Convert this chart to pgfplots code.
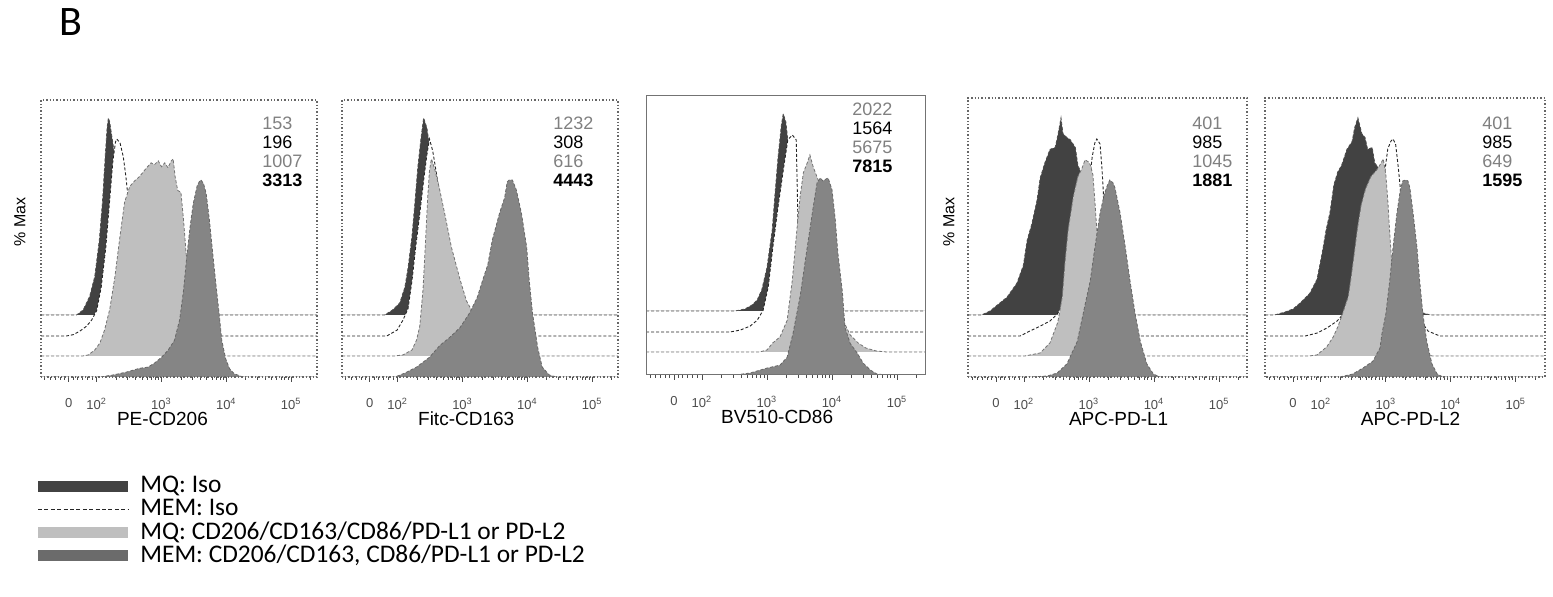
\documentclass[border=0pt]{standalone}
\usepackage{pgfplots}
\pgfplotsset{compat=1.18}
\usepackage{pgfplotstable}
\usepackage{fontspec}
\setmainfont{Liberation Sans}
\newfontfamily\calfont{Carlito}

% ---------- Panel 1: PE-CD206 ----------
\pgfplotstableread{
u p
1.14 0
1.69 0
1.79 2.5
1.89 9.3
1.97 19.5
2.04 38
2.09 58
2.13 80
2.16 95
2.18 100
2.20 98
2.25 87
2.33 68
2.41 43
2.51 18
2.66 3
2.82 0
5.40 0
}\aIso
\pgfplotstableread{
u p
1.14 0
1.53 0
1.64 0.7
1.74 2.5
1.84 4.9
1.92 8
2.00 13
2.07 25
2.14 45
2.20 69
2.25 89
2.29 98.5
2.31 100
2.36 98
2.41 91
2.45 81
2.51 62
2.61 37
2.77 15
2.97 3
3.18 0
5.40 0
}\aMiso
\pgfplotstableread{
u p
1.14 0
1.79 0
1.87 0.5
1.97 3
2.05 6.6
2.12 13
2.20 23.5
2.28 40
2.36 61
2.43 78
2.51 86
2.59 89
2.66 91
2.77 95.5
2.84 98
2.89 97
2.95 99
3.00 96
3.05 98
3.10 95.5
3.15 99
3.18 100
3.21 91
3.25 84
3.30 83
3.34 69
3.38 52
3.46 32
3.56 15
3.69 5
3.84 0.7
4.00 0
5.40 0
}\aMQ
\pgfplotstableread{
u p
1.14 0
2.05 0
2.25 1
2.46 2.5
2.66 4.4
2.79 5
2.89 7
3.00 10
3.10 13.5
3.20 18.6
3.28 29
3.34 44
3.39 61
3.44 76
3.49 88
3.55 97
3.59 99.5
3.61 100
3.65 98
3.69 93
3.74 79.5
3.79 63
3.84 47
3.89 32
3.93 18.6
3.99 9.3
4.05 4.2
4.12 1.7
4.23 0.3
4.33 0
5.40 0
}\aMEM

% ---------- Panel 2: Fitc-CD163 ----------
\pgfplotstableread{
u p
1.14 0
1.80 0
1.92 2.5
2.03 6
2.11 14
2.16 24
2.22 40
2.26 55
2.31 75
2.36 90
2.40 100
2.45 95
2.49 86
2.56 71
2.65 43
2.77 18
2.92 5
3.11 0
5.40 0
}\bIso
\pgfplotstableread{
u p
1.14 0
1.83 0
1.99 3
2.08 8
2.16 14
2.22 28
2.28 46
2.34 62
2.40 79
2.45 92
2.49 100
2.54 94
2.60 82
2.66 69
2.76 49
2.88 28
3.03 11
3.23 1.5
3.42 0
5.40 0
}\bMiso
\pgfplotstableread{
u p
1.14 0
1.96 0
2.08 0.5
2.22 3
2.29 8
2.34 15
2.39 33.5
2.43 59
2.46 79
2.49 94
2.52 100
2.57 95
2.65 84
2.72 73
2.83 55
2.96 39
3.06 28
3.16 22
3.26 13
3.42 5.6
3.65 1.5
3.88 0
5.40 0
}\bMQ
\pgfplotstableread{
u p
1.14 0
1.96 0
2.11 2
2.29 5
2.49 10
2.65 16
2.80 20
2.96 25
3.11 32.5
3.23 40.6
3.31 49
3.39 57
3.46 69.5
3.57 83
3.65 91
3.69 99
3.72 100
3.77 100
3.83 95
3.91 83
3.99 66
4.03 49
4.08 32.5
4.16 15
4.23 5
4.34 1
4.45 0
5.40 0
}\bMEM

% ---------- Panel 3: BV510-CD86 ----------
\pgfplotstableread{
u p
1.14 0
2.51 0
2.66 1
2.77 3
2.85 5.6
2.92 10.7
3.00 22
3.08 41
3.12 58
3.17 78
3.22 94
3.25 100
3.29 96
3.32 87
3.37 71.5
3.43 46
3.51 23
3.63 8
3.82 1
3.97 0
5.43 0
}\cIso
\pgfplotstableread{
u p
1.14 0
2.43 0
2.59 1
2.74 3
2.85 6
2.94 11
3.02 23
3.09 43
3.17 63.5
3.25 82
3.32 97.5
3.39 100
3.45 97.5
3.46 82
3.48 50
3.51 31
3.59 16
3.70 6
3.85 1
4.05 0
5.43 0
}\cMiso
\pgfplotstableread{
u p
1.14 0
2.89 0
3.00 1
3.09 4.6
3.20 7.6
3.31 16
3.39 36.5
3.46 62
3.51 79
3.56 91
3.62 96
3.66 100
3.71 94
3.79 87
3.89 77
4.00 57
4.09 31.5
4.17 16
4.28 8.6
4.40 4.6
4.52 2
4.68 0.5
4.83 0
5.43 0
}\cMQ
\pgfplotstableread{
u p
1.14 0
2.51 0
2.74 1
3.00 3.5
3.20 5
3.31 9
3.40 21
3.51 40
3.62 65
3.71 85
3.77 97.5
3.82 100
3.86 98.5
3.91 99.5
3.94 100
4.00 94
4.05 79
4.09 62
4.16 42
4.20 24
4.28 16
4.39 11
4.48 6
4.59 2.5
4.69 0.5
4.85 0
5.43 0
}\cMEM

% ---------- Panel 4: APC-PD-L1 ----------
\pgfplotstableread{
u p
1.14 0
1.35 0
1.48 2
1.59 5
1.74 9
1.89 16
1.99 25
2.05 38
2.12 46
2.20 58
2.25 69.5
2.32 77
2.40 84
2.48 85
2.52 91
2.57 100
2.60 92
2.66 90
2.71 89
2.79 85
2.83 76
2.89 71
3.02 53
3.14 33
3.25 18
3.36 7.6
3.48 1.5
3.63 0
5.43 0
}\dIso
\pgfplotstableread{
u p
1.14 0
1.94 0
2.09 2.5
2.25 5
2.40 7.6
2.51 11
2.63 17.8
2.79 33
2.91 53
2.99 73.6
3.05 91
3.09 98
3.12 100
3.17 97.5
3.20 85
3.22 73.6
3.23 61
3.26 43
3.32 23
3.42 10
3.56 2.5
3.71 0
5.43 0
}\dMiso
\pgfplotstableread{
u p
1.14 0
2.02 0
2.25 1.5
2.40 6.6
2.52 17
2.59 30
2.63 47
2.68 64
2.76 81
2.83 91
2.89 95
2.94 99.5
2.99 98.5
3.02 97
3.06 92
3.09 79
3.12 64
3.16 49
3.22 33.5
3.32 18
3.45 8
3.60 2
3.79 0
5.43 0
}\dMQ
\pgfplotstableread{
u p
1.14 0
2.09 0
2.36 0.5
2.51 2
2.66 6.6
2.82 18
2.91 32
3.02 49
3.09 65.5
3.17 83
3.23 92
3.28 97
3.32 100
3.37 98.5
3.40 96
3.48 83
3.56 65.5
3.63 49
3.71 32
3.79 18
3.89 6.6
3.99 1.5
4.09 0
5.43 0
}\dMEM

% ---------- Panel 5: APC-PD-L2 ----------
\pgfplotstableread{
u p
1.14 0
1.29 0
1.45 1.5
1.57 3
1.68 6
1.83 11
1.94 18
2.02 31.5
2.08 43
2.14 52
2.20 66
2.26 72.6
2.32 76
2.40 84
2.48 88
2.52 95
2.57 100
2.63 92
2.68 90
2.72 84
2.79 85
2.83 77
2.88 75
2.94 72.6
3.03 58
3.14 38
3.25 20
3.37 7.6
3.52 1.5
3.68 0
5.45 0
}\eIso
\pgfplotstableread{
u p
1.14 0
1.76 0
1.94 1.5
2.09 4
2.25 7.6
2.34 11
2.52 20
2.72 38
2.88 61
2.99 85
3.03 95
3.08 99
3.11 100
3.15 97.5
3.19 86
3.22 76
3.28 53
3.37 28
3.49 10
3.65 2.5
3.83 0
5.45 0
}\eMiso
\pgfplotstableread{
u p
1.14 0
1.83 0
1.94 0.5
2.09 4.6
2.19 9.6
2.26 14.7
2.34 22
2.42 30
2.46 38.6
2.51 51
2.56 64
2.62 76.6
2.69 85
2.77 91
2.86 94.4
2.92 97.5
2.96 100
3.00 92
3.03 79
3.06 62.4
3.09 47.7
3.16 31
3.25 18
3.37 8
3.52 2
3.71 0
5.45 0
}\eMQ
\pgfplotstableread{
u p
1.14 0
2.29 0
2.49 1.5
2.65 4.6
2.80 8
2.91 14.7
2.94 22
3.00 32
3.06 49
3.11 65.5
3.17 83
3.22 94.4
3.26 99.5
3.31 100
3.34 99.5
3.37 96
3.42 83
3.48 65.5
3.52 49
3.57 32
3.63 18
3.71 6.6
3.79 1.5
3.88 0
5.45 0
}\eMEM

\pgfplotsset{
  flow/.style={
    scale only axis, axis on top,
    xmin=1.14, ymin=0,
    axis line style={black!60, densely dotted, line width=0.7pt},
    ytick=\empty,
    xtick pos=bottom,
    xtick={1.57,2,3,4,5},
    xticklabels={0,10\textsuperscript{2},10\textsuperscript{3},10\textsuperscript{4},10\textsuperscript{5}},
    minor xtick={1.2,1.28,1.36,1.44,1.5,1.64,1.7,1.78,1.86,1.93,
      2.301,2.477,2.602,2.699,2.778,2.845,2.903,2.954,
      3.301,3.477,3.602,3.699,3.778,3.845,3.903,3.954,
      4.301,4.477,4.602,4.699,4.778,4.845,4.903,4.954,5.301},
    tick align=outside,
    major tick length=2.5pt, minor tick length=1.5pt,
    tick style={black!70, line width=0.4pt, solid},
    xticklabel style={font=\fontsize{6.5}{7}\selectfont, text=black!70, yshift=-4.5pt},
    xlabel style={font=\fontsize{9.5}{10}\selectfont},
  },
  isoS/.style={fill=black!74, draw=black!70, dash pattern=on 1.5pt off 1pt, line width=0.4pt},
  misoS/.style={fill=white, draw=black!85, dash pattern=on 1.5pt off 1pt, line width=0.45pt},
  mqS/.style={fill=black!25, draw=black!55, dash pattern=on 1.5pt off 1pt, line width=0.4pt},
  memS/.style={fill=black!48, draw=black!60, dash pattern=on 1.5pt off 1pt, line width=0.4pt},
}

\begin{document}
\begin{tikzpicture}
\path[use as bounding box] (0,0) rectangle (776.5pt,298.5pt);

% Panel 1
\begin{axis}[flow, at={(20.5pt,110pt)}, anchor=south west, width=138pt, height=138.5pt,
  xmax=5.40, ymax=140.6, xlabel={PE-CD206},
  xlabel style={at={(axis description cs:0.44,-0.152)}, anchor=center}]
\addplot[isoS] table[x=u, y expr=\thisrow{p}+31.5] {\aIso};
\addplot[misoS] table[x=u, y expr=\thisrow{p}+20.8] {\aMiso};
\addplot[mqS] table[x=u, y expr=\thisrow{p}+10.7] {\aMQ};
\addplot[memS] table[x=u, y=p] {\aMEM};
\end{axis}

% Panel 2
\begin{axis}[flow, at={(171pt,110pt)}, anchor=south west, width=138pt, height=138.5pt,
  xmax=5.40, ymax=140.6, xlabel={Fitc-CD163},
  xlabel style={at={(axis description cs:0.45,-0.152)}, anchor=center}]
\addplot[isoS] table[x=u, y expr=\thisrow{p}+31.5] {\bIso};
\addplot[misoS] table[x=u, y expr=\thisrow{p}+20.8] {\bMiso};
\addplot[mqS] table[x=u, y expr=\thisrow{p}+10.7] {\bMQ};
\addplot[memS] table[x=u, y=p] {\bMEM};
\end{axis}

% Panel 3
\begin{axis}[flow, at={(323pt,111pt)}, anchor=south west, width=139.5pt, height=139.5pt,
  xmax=5.43, ymax=141.6, xlabel={BV510-CD86},
  axis line style={black!55, solid, line width=0.5pt},
  xlabel style={at={(axis description cs:0.47,-0.152)}, anchor=center}]
\addplot[isoS] table[x=u, y expr=\thisrow{p}+32.5] {\cIso};
\addplot[misoS] table[x=u, y expr=\thisrow{p}+21.8] {\cMiso};
\addplot[mqS] table[x=u, y expr=\thisrow{p}+11.7] {\cMQ};
\addplot[memS] table[x=u, y=p] {\cMEM};
\end{axis}

% Panel 4
\begin{axis}[flow, at={(484pt,110pt)}, anchor=south west, width=139.5pt, height=139.5pt,
  xmax=5.43, ymax=141.6, xlabel={APC-PD-L1},
  xlabel style={at={(axis description cs:0.54,-0.152)}, anchor=center}]
\addplot[isoS] table[x=u, y expr=\thisrow{p}+31.5] {\dIso};
\addplot[misoS] table[x=u, y expr=\thisrow{p}+20.8] {\dMiso};
\addplot[mqS] table[x=u, y expr=\thisrow{p}+10.7] {\dMQ};
\addplot[memS] table[x=u, y=p] {\dMEM};
\end{axis}

% Panel 5
\begin{axis}[flow, at={(632.5pt,110pt)}, anchor=south west, width=140pt, height=139.5pt,
  xmax=5.45, ymax=141.6, xlabel={APC-PD-L2},
  xlabel style={at={(axis description cs:0.52,-0.152)}, anchor=center}]
\addplot[isoS] table[x=u, y expr=\thisrow{p}+31.5] {\eIso};
\addplot[misoS] table[x=u, y expr=\thisrow{p}+20.8] {\eMiso};
\addplot[mqS] table[x=u, y expr=\thisrow{p}+10.7] {\eMQ};
\addplot[memS] table[x=u, y=p] {\eMEM};
\end{axis}

% MFI numbers
\tikzset{mfi/.style={anchor=north west, inner sep=0pt, align=left, font=\fontsize{9}{9.5}\selectfont}}
\node[mfi] at (131pt,240pt) {\textcolor{black!50}{153}\\196\\\textcolor{black!50}{1007}\\\textbf{3313}};
\node[mfi] at (276.5pt,240pt) {\textcolor{black!50}{1232}\\308\\\textcolor{black!50}{616}\\\textbf{4443}};
\node[mfi] at (426pt,247pt) {\textcolor{black!50}{2022}\\1564\\\textcolor{black!50}{5675}\\\textbf{7815}};
\node[mfi] at (596pt,240pt) {\textcolor{black!50}{401}\\985\\\textcolor{black!50}{1045}\\\textbf{1881}};
\node[mfi] at (741pt,240pt) {\textcolor{black!50}{401}\\985\\\textcolor{black!50}{649}\\\textbf{1595}};

% y labels
\node[rotate=90, font=\fontsize{8}{9}\selectfont] at (10pt,187.5pt) {\% Max};
\node[rotate=90, font=\fontsize{8}{9}\selectfont] at (474.5pt,187.5pt) {\% Max};

% panel letter
\node[anchor=base west, inner sep=0pt, font=\calfont\fontsize{21}{24}\selectfont] at (29.5pt,280.5pt) {B};

% legend
\fill[black!74] (19pt,52.5pt) rectangle (64pt,58pt);
\draw[black!85, dash pattern=on 2pt off 1.2pt, line width=0.8pt] (19pt,43.75pt) -- (64pt,43.75pt);
\fill[black!25] (19pt,29.5pt) rectangle (64pt,35pt);
\fill[black!58] (19pt,17.75pt) rectangle (64pt,23.25pt);
\begin{scope}[every node/.style={anchor=west, inner sep=0pt, text height=8pt, text depth=1.5pt, font=\calfont\fontsize{12.7}{15}\selectfont}]
\node at (70pt,55.5pt) {MQ: Iso};
\node at (70pt,43.75pt) {MEM: Iso};
\node at (70pt,32pt) {MQ: CD206/CD163/CD86/PD-L1 or PD-L2};
\node at (70pt,20.25pt) {MEM: CD206/CD163, CD86/PD-L1 or PD-L2};
\end{scope}
\end{tikzpicture}
\end{document}
